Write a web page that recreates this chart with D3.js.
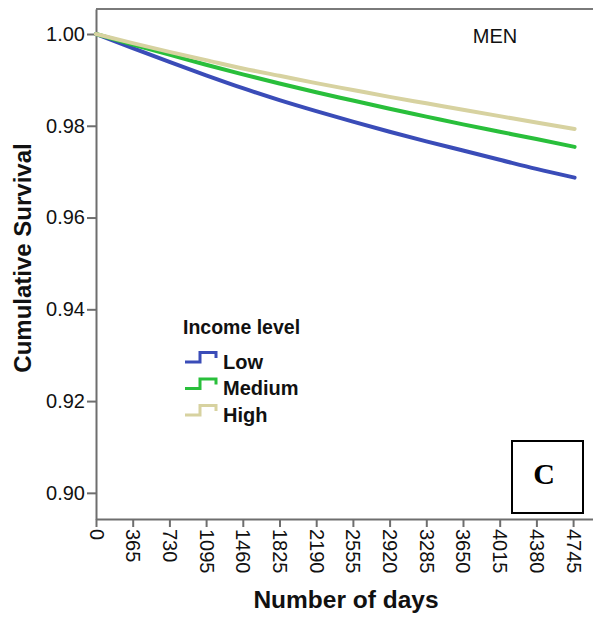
<!DOCTYPE html>
<html>
<head>
<meta charset="utf-8">
<script src="https://cdn.jsdelivr.net/npm/d3@7"></script>
<style>
  html, body { margin: 0; padding: 0; background: #fff; }
  svg { display: block; }
  text { font-family: "Liberation Sans", Arial, sans-serif; }
</style>
</head>
<body>
<svg id="chart" width="593" height="619"></svg>
<script>
// ---- data ----
const days = [0, 365, 730, 1095, 1460, 1825, 2190, 2555, 2920, 3285, 3650, 4015, 4380, 4760];
const survLow    = [1.0000, 0.9969, 0.9939, 0.9910, 0.9882, 0.9856, 0.9832, 0.9809, 0.9787, 0.9766, 0.9746, 0.9726, 0.9706, 0.9687];
const survMedium = [1.0000, 0.9977, 0.9955, 0.9933, 0.9912, 0.9892, 0.9873, 0.9855, 0.9837, 0.9820, 0.9803, 0.9787, 0.9771, 0.9754];
const survHigh   = [1.0000, 0.9980, 0.9961, 0.9943, 0.9925, 0.9909, 0.9893, 0.9878, 0.9863, 0.9849, 0.9835, 0.9821, 0.9807, 0.9793];
const seriesNames = ["Low", "Medium", "High"];
const xTicks = [0, 365, 730, 1095, 1460, 1825, 2190, 2555, 2920, 3285, 3650, 4015, 4380, 4745];
const yTicks = [0.90, 0.92, 0.94, 0.96, 0.98, 1.00];

const colors = { Low: "#3a4cb8", Medium: "#29bf3b", High: "#d7d2a0" };
const seriesVals = { Low: survLow, Medium: survMedium, High: survHigh };

const svg = d3.select("#chart");
const mLeft = 96, mRight = 593, mTop = 9, mBottom = 519;

const x = d3.scaleLinear().domain([0, 4943]).range([mLeft, mRight]);
const y = d3.scaleLinear().domain([0.8943, 1.00545]).range([mBottom, mTop]);

// top frame
svg.append("line")
  .attr("x1", mLeft).attr("x2", mRight).attr("y1", mTop).attr("y2", mTop)
  .attr("stroke", "#7a7a7a").attr("stroke-width", 2);

// y axis
const gy = svg.append("g").attr("transform", `translate(${mLeft},0)`)
  .call(d3.axisLeft(y).tickValues(yTicks).tickFormat(d3.format(".2f")).tickSize(9).tickSizeOuter(0).tickPadding(2));
gy.select(".domain").attr("stroke", "#6e6e6e").attr("stroke-width", 2);
gy.selectAll(".tick line").attr("stroke", "#6e6e6e").attr("stroke-width", 2);
gy.selectAll(".tick text").attr("font-size", 20).attr("fill", "#111");

// x axis
const gx = svg.append("g").attr("transform", `translate(0,${mBottom})`)
  .call(d3.axisBottom(x).tickValues(xTicks).tickFormat(d3.format("d")).tickSize(8).tickSizeOuter(0));
gx.select(".domain").attr("stroke", "#6e6e6e").attr("stroke-width", 2);
gx.selectAll(".tick line").attr("stroke", "#6e6e6e").attr("stroke-width", 2);
gx.selectAll(".tick text")
  .attr("font-size", 20).attr("fill", "#111")
  .attr("transform", "rotate(90)")
  .attr("x", 10).attr("y", 0).attr("dy", "0.35em")
  .attr("text-anchor", "start");

// lines
const line = d3.line().x((d, i) => x(days[i])).y(d => y(d)).curve(d3.curveMonotoneX);
seriesNames.forEach(name => {
  svg.append("path")
    .datum(seriesVals[name])
    .attr("d", line)
    .attr("fill", "none")
    .attr("stroke", colors[name])
    .attr("stroke-width", 4)
    .attr("stroke-linecap", "round");
});

// axis titles
svg.append("text")
  .attr("transform", `translate(31,258) rotate(-90)`)
  .attr("text-anchor", "middle")
  .attr("font-size", 24).attr("font-weight", "bold").attr("fill", "#111")
  .text("Cumulative Survival");
svg.append("text")
  .attr("x", 346).attr("y", 608)
  .attr("text-anchor", "middle")
  .attr("font-size", 24.5).attr("font-weight", "bold").attr("fill", "#111")
  .text("Number of days");

// panel title
svg.append("text")
  .attr("x", 495).attr("y", 43)
  .attr("text-anchor", "middle")
  .attr("font-size", 20).attr("fill", "#111")
  .text("MEN");

// legend
const lg = svg.append("g");
lg.append("text").attr("x", 183).attr("y", 334)
  .attr("font-size", 19.5).attr("font-weight", "bold").attr("fill", "#111").text("Income level");
seriesNames.forEach((name, i) => {
  const by = 362 + i * 26.5;
  lg.append("path")
    .attr("d", `M185,${by} H200 V${by - 9.5} H216 V${by - 4}`)
    .attr("fill", "none").attr("stroke", colors[name]).attr("stroke-width", 3);
  lg.append("text").attr("x", 223).attr("y", by + 6.5)
    .attr("font-size", 20).attr("font-weight", "bold").attr("fill", "#111").text(name);
});

// panel letter box
svg.append("rect")
  .attr("x", 512).attr("y", 441).attr("width", 71).attr("height", 72)
  .attr("fill", "#fff").attr("stroke", "#000").attr("stroke-width", 2);
svg.append("text")
  .attr("x", 544).attr("y", 484)
  .attr("text-anchor", "middle")
  .style("font-family", "'Liberation Serif', 'Times New Roman', serif")
  .attr("font-size", 30).attr("font-weight", "bold").attr("fill", "#000")
  .text("C");
</script>
</body>
</html>
